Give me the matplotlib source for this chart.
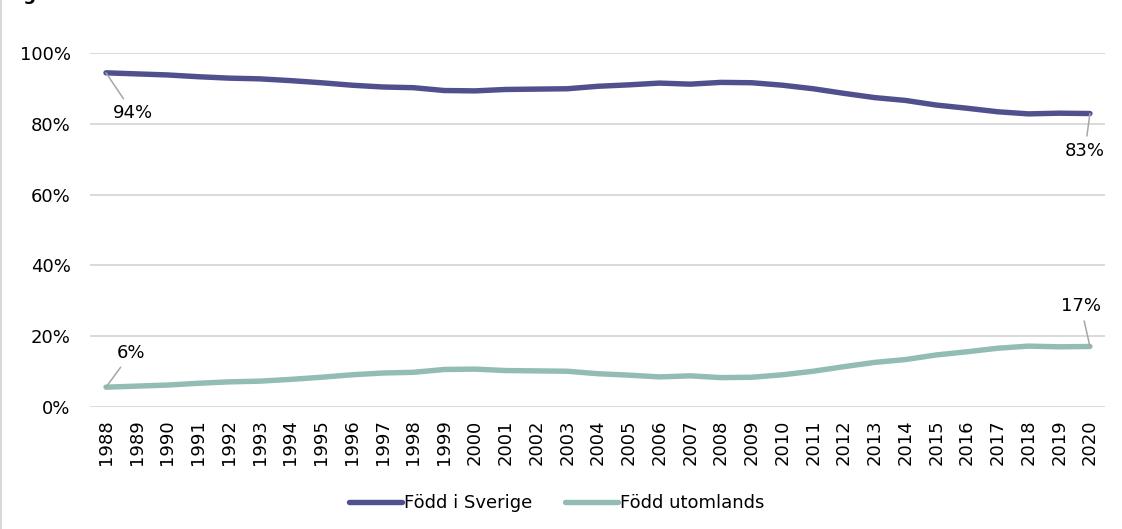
import matplotlib
matplotlib.use("Agg")
import matplotlib.pyplot as plt
from matplotlib.lines import Line2D

years = list(range(1988, 2021))
fodd_i_sverige = [94.4, 94.1, 93.8, 93.3, 92.9, 92.7, 92.2, 91.6, 90.9, 90.4, 90.2,
                  89.4, 89.3, 89.7, 89.8, 89.9, 90.6, 91.0, 91.5, 91.2, 91.7, 91.6,
                  90.9, 89.9, 88.6, 87.4, 86.6, 85.3, 84.4, 83.4, 82.8, 83.0, 82.9]
fodd_utomlands = [5.6, 5.9, 6.2, 6.7, 7.1, 7.3, 7.8, 8.4, 9.1, 9.6, 9.8,
                  10.6, 10.7, 10.3, 10.2, 10.1, 9.4, 9.0, 8.5, 8.8, 8.3, 8.4,
                  9.1, 10.1, 11.4, 12.6, 13.4, 14.7, 15.6, 16.6, 17.2, 17.0, 17.1]
series_names = ["Född i Sverige", "Född utomlands"]
yticks = [0, 20, 40, 60, 80, 100]
ytick_labels = ["0%", "20%", "40%", "60%", "80%", "100%"]
end_labels_sv = ["94%", "83%"]
end_labels_ut = ["6%", "17%"]

c_sv = "#51508F"
c_ut = "#93BCB4"

plt.rcParams['font.family'] = ['DejaVu Sans']
fig = plt.figure(figsize=(11.22, 5.29), dpi=100)
ax = fig.add_axes([90/1122, 1-407/529, 1015/1122, 354/529])

ax.plot(years, fodd_i_sverige, color=c_sv, lw=3.9, solid_capstyle='round',
        solid_joinstyle='round', label=series_names[0], zorder=3)
ax.plot(years, fodd_utomlands, color=c_ut, lw=3.9, solid_capstyle='round',
        solid_joinstyle='round', label=series_names[1], zorder=3)

ax.set_xlim(1987.48, 2020.49)
ax.set_ylim(0, 100)
ax.set_yticks(yticks)
ax.set_yticklabels(ytick_labels, fontsize=13)
ax.set_xticks(years)
ax.set_xticklabels([str(y) for y in years], rotation=90, fontsize=13)
ax.tick_params(axis='y', length=0, pad=14)
ax.tick_params(axis='x', length=0, pad=9)
ax.grid(axis='y', color='#D9D9D9', lw=1.4)
ax.set_axisbelow(True)
for s in ax.spines.values():
    s.set_visible(False)

arrow = dict(arrowstyle='-', color='#A6A6A6', lw=1.1, shrinkA=2, shrinkB=0)
ax.annotate(end_labels_sv[0], xy=(years[0], fodd_i_sverige[0]), xytext=(27, -40),
            textcoords='offset pixels', ha='center', va='center', fontsize=13,
            arrowprops=arrow)
ax.annotate(end_labels_sv[1], xy=(years[-1], fodd_i_sverige[-1]), xytext=(-5, -37),
            textcoords='offset pixels', ha='center', va='center', fontsize=13,
            arrowprops=arrow)
ax.annotate(end_labels_ut[0], xy=(years[0], fodd_utomlands[0]), xytext=(25, 34),
            textcoords='offset pixels', ha='center', va='center', fontsize=13,
            arrowprops=arrow)
ax.annotate(end_labels_ut[1], xy=(years[-1], fodd_utomlands[-1]), xytext=(-9, 40),
            textcoords='offset pixels', ha='center', va='center', fontsize=13,
            arrowprops=arrow)

fig.legend(loc='center', bbox_to_anchor=(557/1122, 1-503/529), ncol=2,
           frameon=False, fontsize=13, handlelength=2.9, handletextpad=0.15,
           columnspacing=1.8)

fig.text(5/1122, 1-0.5/529, "Figur", fontsize=13, fontweight='bold',
         ha='left', va='baseline')
fig.add_artist(Line2D([0.6/1122, 0.6/1122], [0, 1], color='#D9D9D9', lw=1.5))

fig.savefig("out.png", dpi=100)
